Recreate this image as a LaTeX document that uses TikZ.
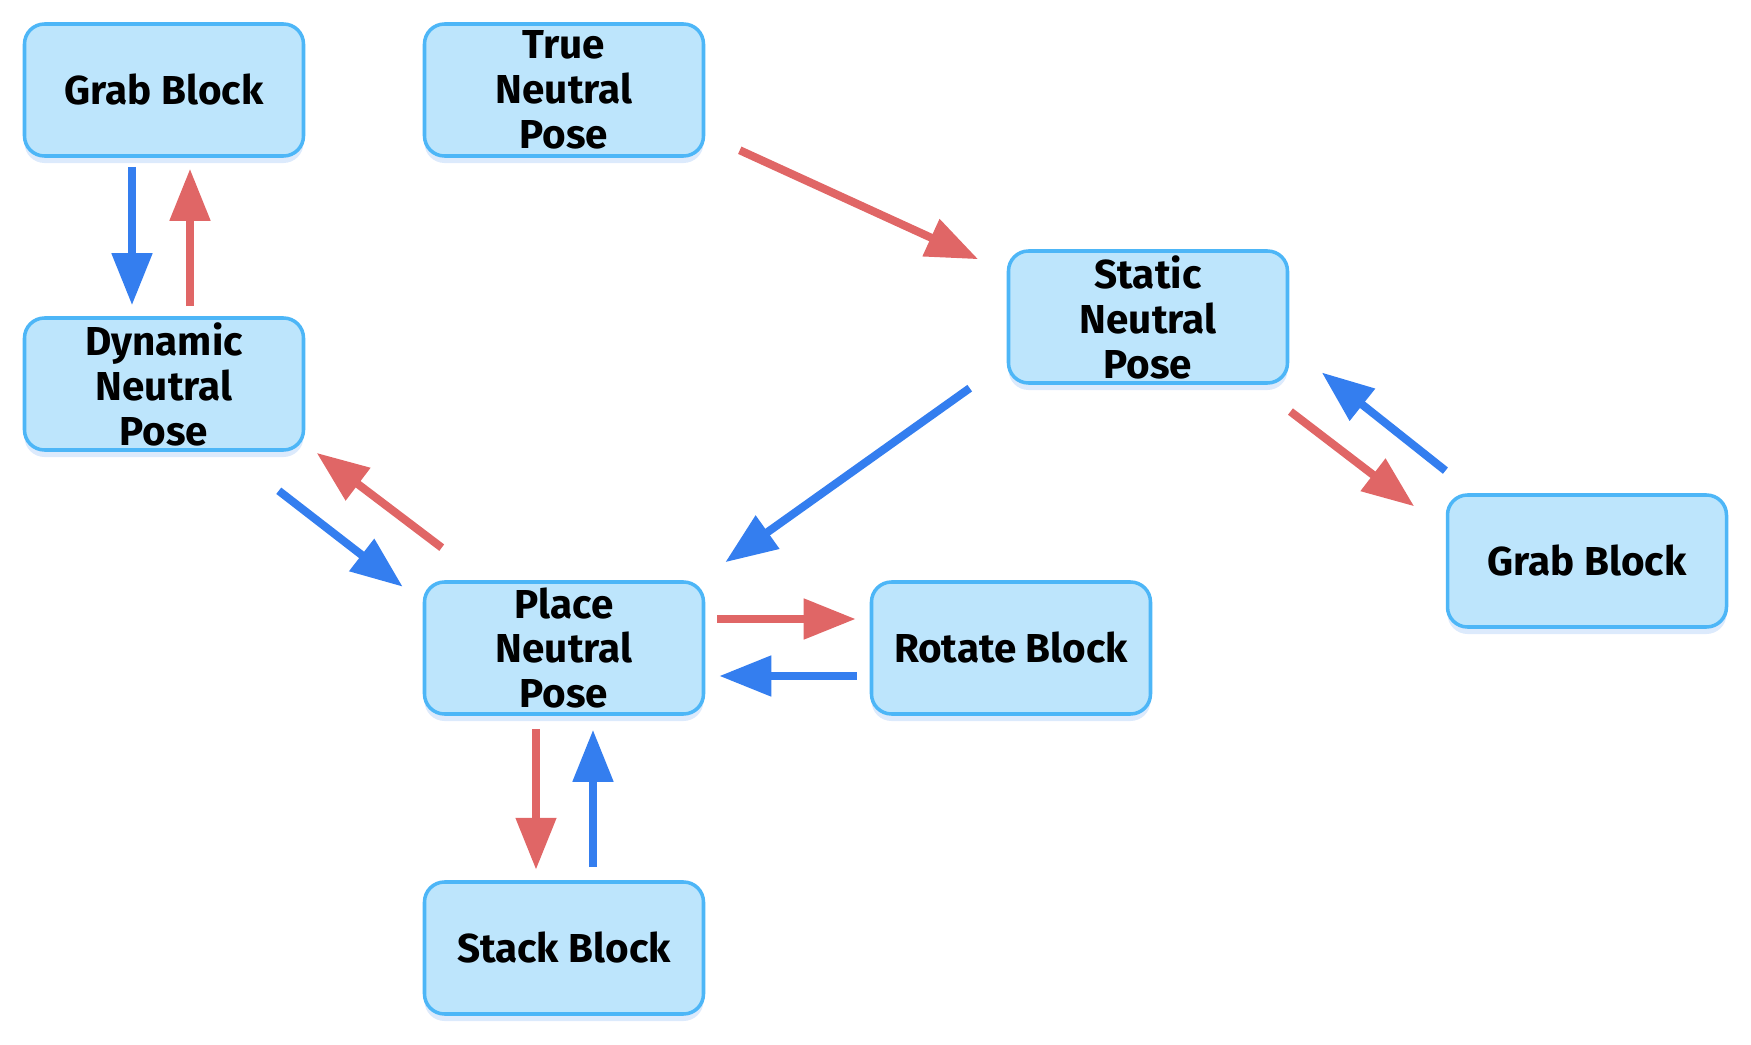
\documentclass[tikz,border=0pt]{standalone}
\usepackage{fontspec}
\setmainfont{Fira Sans}
\usepackage{tikz}
\usetikzlibrary{arrows.meta,positioning,calc,shadows}
\definecolor{BoxFill}{HTML}{BDE5FC}
\definecolor{BoxLine}{HTML}{4DB6F7}
\definecolor{BoxShade}{HTML}{9CC2F5}
\definecolor{ArrRed}{HTML}{E06666}
\definecolor{ArrBlue}{HTML}{347EEF}

\begin{document}
\begin{tikzpicture}[
  every node/.style={font=\bfseries\fontsize{11.5}{12.8}\selectfont},
  box/.style={draw=BoxLine,line width=1pt,fill=BoxFill,rounded corners=0.2cm,
    minimum width=2.79cm,minimum height=1.32cm,inner sep=0pt,align=center,
    drop shadow={shadow xshift=0pt,shadow yshift=-0.7mm,fill=BoxShade,opacity=0.35}},
  redarr/.style={draw=ArrRed,line width=2.3pt,-{Triangle[length=5.2mm,width=3.9mm]}},
  bluearr/.style={draw=ArrBlue,line width=2.3pt,-{Triangle[length=5.2mm,width=3.9mm]}}]
\useasboundingbox (0,0) rectangle (17.51,-10.45);
% states
\node[box] (grabL) at (1.64,-0.90) {Grab Block};
\node[box] (truepose) at (5.64,-0.90) {True\\Neutral\\Pose};
\node[box] (dynpose) at (1.64,-3.84) {Dynamic\\Neutral\\Pose};
\node[box] (staticpose) at (11.48,-3.17) {Static\\Neutral\\Pose};
\node[box] (grabR) at (15.87,-5.61) {Grab Block};
\node[box] (placepose) at (5.64,-6.48) {Place\\Neutral\\Pose};
\node[box] (rotate) at (10.11,-6.48) {Rotate Block};
\node[box] (stack) at (5.64,-9.48) {Stack Block};
% transitions
\draw[bluearr] ($(grabL.south)+(-0.32,-0.09)$) -- ($(dynpose.north)+(-0.32,0.11)$);
\draw[redarr] ($(dynpose.north)+(0.26,0.10)$) -- ($(grabL.south)+(0.26,-0.11)$);
\draw[redarr] ($(truepose.south east)+(0.345,0.075)$) -- ($(staticpose.north west)+(-0.285,-0.10)$);
\draw[bluearr] ($(staticpose.south west)+(-0.37,-0.034)$) -- ($(placepose.north east)+(0.20,0.18)$);
\draw[bluearr] ($(dynpose.south east)+(-0.265,-0.39)$) -- ($(placepose.north west)+(-0.20,-0.065)$);
\draw[redarr] ($(placepose.north west)+(0.19,0.326)$) -- ($(dynpose.south east)+(0.114,-0.011)$);
\draw[redarr] ($(staticpose.south east)+(0.012,-0.268)$) -- ($(grabR.north west)+(-0.315,-0.131)$);
\draw[bluearr] ($(grabR.north west)+(-0.003,0.226)$) -- ($(staticpose.south east)+(0.325,0.123)$);
\draw[redarr] ($(placepose.east)+(0.12,0.29)$) -- ($(rotate.west)+(-0.14,0.29)$);
\draw[bluearr] ($(rotate.west)+(-0.13,-0.28)$) -- ($(placepose.east)+(0.14,-0.28)$);
\draw[redarr] ($(placepose.south)+(-0.28,-0.13)$) -- ($(stack.south)+(-0.28,1.46)$);
\draw[bluearr] ($(stack.north)+(0.29,0.13)$) -- ($(placepose.south)+(0.29,-0.14)$);
\end{tikzpicture}
\end{document}
